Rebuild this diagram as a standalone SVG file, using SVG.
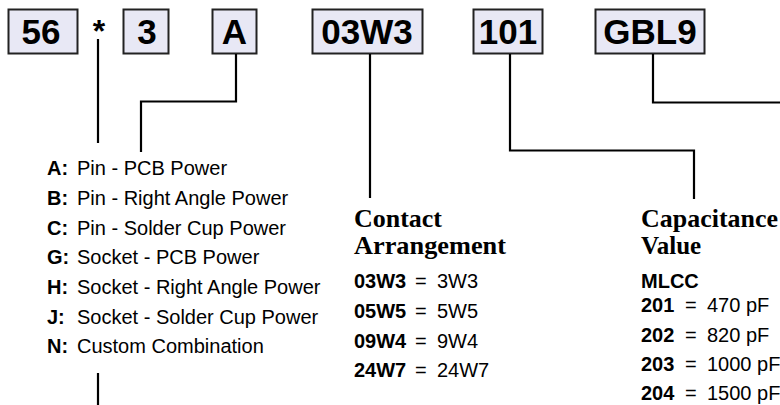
<svg xmlns="http://www.w3.org/2000/svg" width="780" height="405" viewBox="0 0 780 405">
<style>
.box rect{fill:#e8e8f5;stroke:#222;stroke-width:2}
.box text{font-family:"Liberation Sans",Arial,sans-serif;font-weight:bold;font-size:35px;fill:#000;text-anchor:middle}
.conn path{fill:none;stroke:#000;stroke-width:2.2}
.l{font-family:"Liberation Sans",Arial,sans-serif;font-size:20px;fill:#000}
.b{font-weight:bold}
.h{font-family:"Liberation Serif","Times New Roman",serif;font-weight:bold;font-size:25px;fill:#000}
</style>
<rect width="780" height="405" fill="#fff"/>
<g id="n56" class="box"><rect x="8.5" y="9.5" width="69" height="44"/><text x="41" y="43.5">56</text></g>
<g id="star"><text x="99" y="42" style="font-family:'Liberation Sans',Arial,sans-serif;font-weight:bold;font-size:32px;text-anchor:middle">*</text></g>
<g id="n3" class="box"><rect x="123.5" y="9.5" width="45" height="44"/><text x="147" y="43.5">3</text></g>
<g id="nA" class="box"><rect x="212.5" y="9.5" width="44" height="44"/><text x="234.5" y="43.5">A</text></g>
<g id="n03W3" class="box"><rect x="312.5" y="9.5" width="110" height="44"/><text x="367" y="43.5">03W3</text></g>
<g id="n101" class="box"><rect x="473.5" y="9.5" width="69" height="44"/><text x="508" y="43.5">101</text></g>
<g id="nGBL9" class="box"><rect x="595.5" y="9.5" width="109" height="44"/><text x="650" y="43.5">GBL9</text></g>
<g id="connectors" class="conn">
<path d="M98 39V143"/>
<path d="M236 54V101.5H141V152"/>
<path d="M370 54V198"/>
<path d="M510 54V150.5H694V199"/>
<path d="M653 54V102.5H780"/>
<path d="M98 373V405"/>
</g>
<g id="termination">
<text class="l" x="47" y="175"><tspan class="b">A:</tspan><tspan x="77">Pin - PCB Power</tspan></text>
<text class="l" x="47" y="205"><tspan class="b">B:</tspan><tspan x="77">Pin - Right Angle Power</tspan></text>
<text class="l" x="47" y="235"><tspan class="b">C:</tspan><tspan x="77">Pin - Solder Cup Power</tspan></text>
<text class="l" x="47" y="264"><tspan class="b">G:</tspan><tspan x="77">Socket - PCB Power</tspan></text>
<text class="l" x="47" y="294"><tspan class="b">H:</tspan><tspan x="77">Socket - Right Angle Power</tspan></text>
<text class="l" x="47" y="324"><tspan class="b">J:</tspan><tspan x="77">Socket - Solder Cup Power</tspan></text>
<text class="l" x="47" y="353"><tspan class="b">N:</tspan><tspan x="77">Custom Combination</tspan></text>
</g>
<g id="contact">
<text class="h" x="354" y="227" textLength="88" lengthAdjust="spacingAndGlyphs">Contact</text>
<text class="h" x="354" y="254" textLength="152" lengthAdjust="spacingAndGlyphs">Arrangement</text>
<text class="l" x="354" y="288"><tspan class="b">03W3</tspan><tspan x="415">=</tspan><tspan x="437">3W3</tspan></text>
<text class="l" x="354" y="318"><tspan class="b">05W5</tspan><tspan x="415">=</tspan><tspan x="437">5W5</tspan></text>
<text class="l" x="354" y="348"><tspan class="b">09W4</tspan><tspan x="415">=</tspan><tspan x="437">9W4</tspan></text>
<text class="l" x="354" y="377"><tspan class="b">24W7</tspan><tspan x="415">=</tspan><tspan x="437">24W7</tspan></text>
</g>
<g id="capacitance">
<text class="h" x="641" y="227" textLength="137" lengthAdjust="spacingAndGlyphs">Capacitance</text>
<text class="h" x="641" y="254">Value</text>
<text class="l b" x="641" y="288">MLCC</text>
<text class="l" x="641" y="312"><tspan class="b">201</tspan><tspan x="685">=</tspan><tspan x="707">470 pF</tspan></text>
<text class="l" x="641" y="342"><tspan class="b">202</tspan><tspan x="685">=</tspan><tspan x="707">820 pF</tspan></text>
<text class="l" x="641" y="371"><tspan class="b">203</tspan><tspan x="685">=</tspan><tspan x="707">1000 pF</tspan></text>
<text class="l" x="641" y="400"><tspan class="b">204</tspan><tspan x="685">=</tspan><tspan x="707">1500 pF</tspan></text>
</g>
</svg>
